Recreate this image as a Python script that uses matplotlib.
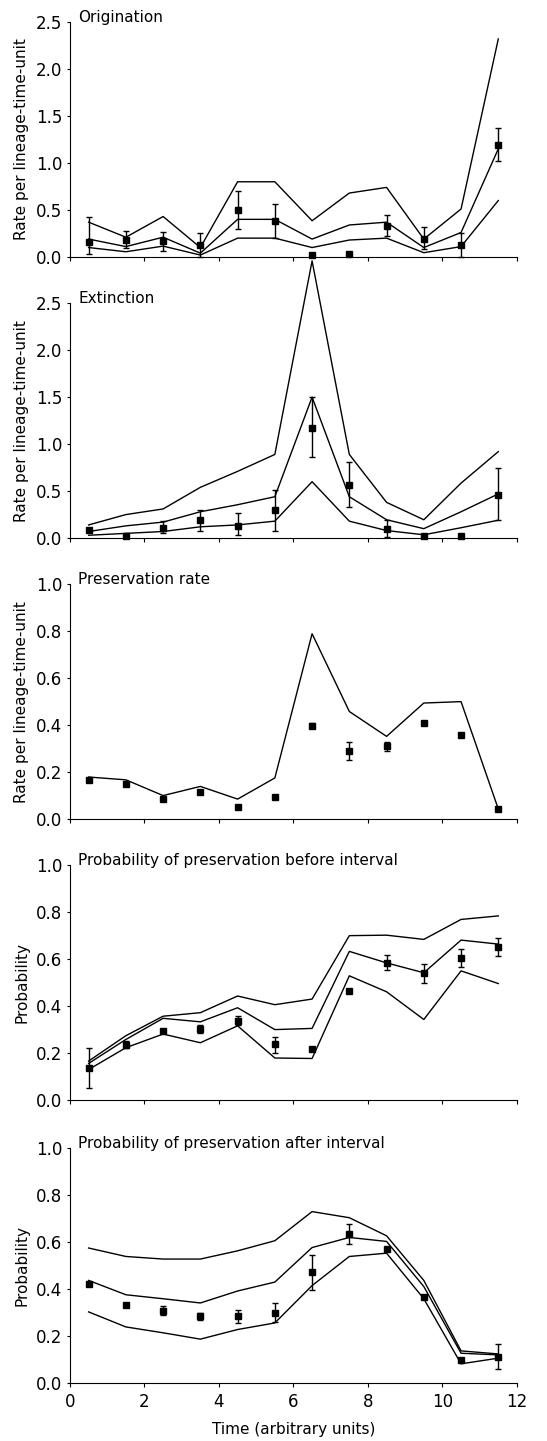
import matplotlib
matplotlib.use('Agg')
import matplotlib.pyplot as plt
import numpy as np

plt.rcParams['font.family'] = ['DejaVu Sans']

t = np.arange(12) + 0.5

# Origination
orig_hi = [0.37, 0.21, 0.43, 0.10, 0.80, 0.80, 0.385, 0.68, 0.74, 0.19, 0.51, 2.32]
orig_mid = [0.19, 0.11, 0.21, 0.04, 0.40, 0.40, 0.19, 0.34, 0.37, 0.10, 0.26, 1.15]
orig_lo = [0.10, 0.055, 0.115, 0.02, 0.20, 0.20, 0.10, 0.18, 0.20, 0.045, 0.11, 0.60]
orig_pt = [0.155, 0.185, 0.17, 0.13, 0.50, 0.38, 0.025, 0.035, 0.33, 0.19, 0.13, 1.19]
orig_top = [0.43, 0.28, 0.27, 0.26, 0.70, 0.56, 0.025, 0.035, 0.445, 0.32, 0.26, 1.37]
orig_bot = [0.03, 0.10, 0.06, 0.0, 0.30, 0.20, 0.025, 0.035, 0.22, 0.085, 0.0, 1.02]

# Extinction
ext_hi = [0.14, 0.25, 0.31, 0.54, 0.71, 0.89, 2.95, 0.89, 0.38, 0.195, 0.585, 0.92]
ext_mid = [0.07, 0.13, 0.17, 0.28, 0.355, 0.44, 1.50, 0.44, 0.195, 0.10, 0.28, 0.47]
ext_lo = [0.03, 0.05, 0.07, 0.12, 0.14, 0.18, 0.60, 0.18, 0.08, 0.035, 0.11, 0.19]
ext_pt = [0.09, 0.02, 0.11, 0.19, 0.13, 0.295, 1.17, 0.57, 0.10, 0.02, 0.02, 0.46]
ext_top = [0.11, 0.02, 0.18, 0.295, 0.27, 0.51, 1.50, 0.805, 0.195, 0.02, 0.02, 0.745]
ext_bot = [0.07, 0.02, 0.05, 0.08, 0.03, 0.07, 0.86, 0.33, 0.01, 0.02, 0.02, 0.19]

# Preservation rate
pres_hi = [0.179, 0.167, 0.10, 0.139, 0.085, 0.175, 0.789, 0.458, 0.352, 0.494, 0.50, 0.043]
pres_pt = [0.165, 0.149, 0.087, 0.115, 0.051, 0.094, 0.397, 0.288, 0.309, 0.411, 0.357, 0.044]
pres_top = [0.165, 0.149, 0.087, 0.115, 0.051, 0.094, 0.41, 0.326, 0.33, 0.411, 0.357, 0.044]
pres_bot = [0.165, 0.149, 0.087, 0.115, 0.051, 0.094, 0.39, 0.252, 0.29, 0.411, 0.357, 0.044]

# Probability of preservation before interval
bef_hi = [0.166, 0.274, 0.357, 0.372, 0.443, 0.406, 0.43, 0.70, 0.702, 0.684, 0.769, 0.784]
bef_mid = [0.156, 0.258, 0.348, 0.333, 0.393, 0.30, 0.305, 0.633, 0.584, 0.542, 0.681, 0.664]
bef_lo = [0.13, 0.223, 0.281, 0.244, 0.316, 0.179, 0.177, 0.529, 0.461, 0.343, 0.55, 0.496]
bef_pt = [0.135, 0.234, 0.295, 0.302, 0.338, 0.237, 0.217, 0.465, 0.584, 0.539, 0.603, 0.652]
bef_top = [0.22, 0.25, 0.30, 0.32, 0.36, 0.27, 0.217, 0.465, 0.617, 0.579, 0.641, 0.692]
bef_bot = [0.05, 0.22, 0.29, 0.285, 0.32, 0.20, 0.217, 0.465, 0.553, 0.50, 0.565, 0.614]

# Probability of preservation after interval
aft_hi = [0.575, 0.539, 0.528, 0.528, 0.563, 0.606, 0.73, 0.704, 0.627, 0.437, 0.137, 0.124]
aft_mid = [0.437, 0.376, 0.359, 0.341, 0.392, 0.43, 0.577, 0.62, 0.603, 0.411, 0.127, 0.12]
aft_lo = [0.303, 0.239, 0.214, 0.187, 0.228, 0.256, 0.415, 0.539, 0.553, 0.359, 0.082, 0.106]
aft_pt = [0.42, 0.331, 0.308, 0.285, 0.285, 0.30, 0.472, 0.634, 0.57, 0.366, 0.099, 0.11]
aft_top = [0.42, 0.331, 0.33, 0.30, 0.313, 0.341, 0.545, 0.676, 0.57, 0.366, 0.099, 0.166]
aft_bot = [0.42, 0.331, 0.29, 0.27, 0.254, 0.261, 0.397, 0.594, 0.57, 0.366, 0.099, 0.059]

fig = plt.figure(figsize=(5.47, 14.41), dpi=100)

panels = [
    ('Origination', 'Rate per lineage-time-unit', 2.5, 0.5,
     [orig_hi, orig_mid, orig_lo], orig_pt, orig_top, orig_bot, 0.8217),
    ('Extinction', 'Rate per lineage-time-unit', 2.5, 0.5,
     [ext_hi, ext_mid, ext_lo], ext_pt, ext_top, ext_bot, 0.6266),
    ('Preservation rate', 'Rate per lineage-time-unit', 1.0, 0.2,
     [pres_hi], pres_pt, pres_top, pres_bot, 0.4316),
    ('Probability of preservation before interval', 'Probability', 1.0, 0.2,
     [bef_hi, bef_mid, bef_lo], bef_pt, bef_top, bef_bot, 0.2366),
    ('Probability of preservation after interval', 'Probability', 1.0, 0.2,
     [aft_hi, aft_mid, aft_lo], aft_pt, aft_top, aft_bot, 0.0402),
]

for i, (title, ylab, ymax, ystep, lines, pt, top, bot, b) in enumerate(panels):
    ax = fig.add_axes([0.128, b, 0.817, 0.1630])
    for ln in lines:
        ax.plot(t, ln, '-', color='black', lw=1.0, clip_on=False)
    pt = np.array(pt)
    err = [pt - np.array(bot), np.array(top) - pt]
    ax.errorbar(t, pt, yerr=err, fmt='s', color='black', ms=5, capsize=2.5,
                elinewidth=1.0, capthick=1.0, clip_on=False, zorder=3)
    ax.set_xlim(0, 12)
    ax.set_ylim(0, ymax)
    ax.set_xticks(np.arange(0, 13, 2))
    ax.set_yticks(np.arange(0, ymax + 0.001, ystep))
    ax.yaxis.set_major_formatter(matplotlib.ticker.FormatStrFormatter('%.1f'))
    ax.spines['top'].set_visible(False)
    ax.spines['right'].set_visible(False)
    ax.tick_params(axis='y', direction='out', length=2.5, pad=3, labelsize=12, width=0.8)
    ax.tick_params(axis='x', direction='out', length=3, pad=4, labelsize=12, width=0.8)
    ax.set_ylabel(ylab, fontsize=11, labelpad=5)
    ax.text(0.018, 1.02, title, transform=ax.transAxes, fontsize=11,
            va='center', ha='left')
    if i < 4:
        ax.set_xticklabels([])
    else:
        ax.set_xlabel('Time (arbitrary units)', fontsize=11, labelpad=8)

plt.savefig('out.png', dpi=100)
